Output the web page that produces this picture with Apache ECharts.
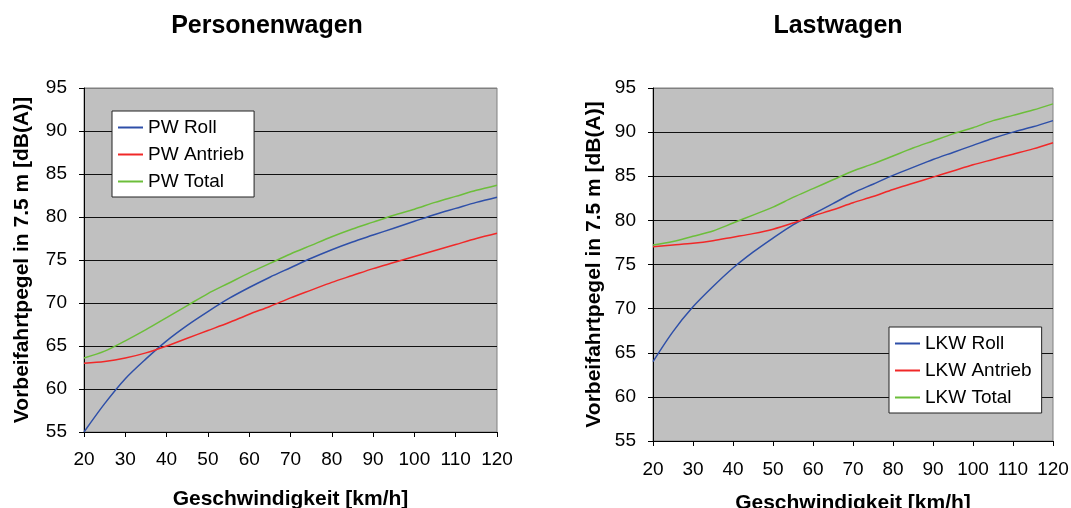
<!DOCTYPE html>
<html>
<head>
<meta charset="utf-8">
<script src="https://cdn.jsdelivr.net/npm/echarts@6/dist/echarts.min.js"></script>
<style>
html,body{margin:0;padding:0;background:#fff;}
#c{width:1071px;height:508px;}
</style>
</head>
<body>
<div id="c"></div>
<script>
// ---- data ----
const speeds = [20,25,30,35,40,45,50,55,60,65,70,75,80,85,90,95,100,105,110,115,120];
const xTicks = [20,30,40,50,60,70,80,90,100,110,120];
const yTicks = [55,60,65,70,75,80,85,90,95];

const pwRoll    = [55.0,58.3,61.2,63.5,65.6,67.4,69.0,70.5,71.8,73.0,74.1,75.2,76.2,77.1,77.9,78.7,79.5,80.3,81.0,81.7,82.3];
const pwAntrieb = [63.0,63.2,63.6,64.2,65.0,65.9,66.8,67.7,68.7,69.6,70.6,71.5,72.4,73.2,74.0,74.7,75.4,76.1,76.8,77.5,78.1];
const pwTotal   = [63.6,64.4,65.6,66.9,68.3,69.7,71.1,72.3,73.5,74.6,75.7,76.7,77.7,78.6,79.4,80.2,80.9,81.7,82.4,83.1,83.7];

const lkwRoll    = [64.0,67.4,70.2,72.5,74.6,76.4,78.0,79.5,80.7,81.9,83.1,84.1,85.1,86.0,86.9,87.7,88.5,89.3,90.0,90.6,91.3];
const lkwAntrieb = [77.0,77.2,77.4,77.7,78.1,78.5,79.0,79.7,80.5,81.2,82.0,82.7,83.5,84.2,84.9,85.6,86.3,86.9,87.5,88.1,88.8];
const lkwTotal   = [77.2,77.6,78.2,78.8,79.7,80.6,81.5,82.6,83.6,84.6,85.6,86.4,87.3,88.2,89.0,89.8,90.5,91.3,91.9,92.5,93.2];

const titles = ['Personenwagen','Lastwagen'];
const xName = 'Geschwindigkeit [km/h]';
const yName = 'Vorbeifahrtpegel in 7.5 m [dB(A)]';
const pwNames = ['PW Roll','PW Antrieb','PW Total'];
const lkwNames = ['LKW Roll','LKW Antrieb','LKW Total'];

// ---- styling ----
const FONT = 'Liberation Sans, Arial, sans-serif';
const colors = ['#2E4FA8','#F02828','#6CBE3A'];
const pairs = arr => speeds.map((s,i)=>[s, arr[i]]);
const splitColors = yTicks.map((v,i)=> i===yTicks.length-1 ? '#808080' : '#111');

function xAxisFor(gi, gap, margin){
  return {
    gridIndex: gi, type:'value', min: xTicks[0], max: xTicks[xTicks.length-1], interval: 10,
    name: xName, nameLocation:'middle', nameGap: gap,
    nameTextStyle:{fontFamily:FONT,fontSize:21,fontWeight:'bold',color:'#000'},
    axisLine:{show:true,onZero:false,lineStyle:{color:'#000',width:1}},
    axisTick:{show:true,inside:false,length:5,lineStyle:{color:'#000'}},
    axisLabel:{fontFamily:FONT,fontSize:19,color:'#000',margin:margin},
    splitLine:{show:false}
  };
}
function yAxisFor(gi, gap){
  return {
    gridIndex: gi, type:'value', min: yTicks[0], max: yTicks[yTicks.length-1], interval: 5,
    name: yName, nameLocation:'middle', nameGap: gap, nameRotate: 90,
    nameTextStyle:{fontFamily:FONT,fontSize:21,fontWeight:'bold',color:'#000'},
    axisLine:{show:true,onZero:false,lineStyle:{color:'#000',width:1}},
    axisTick:{show:true,inside:false,length:5,lineStyle:{color:'#000'}},
    axisLabel:{fontFamily:FONT,fontSize:19,color:'#000',margin:17},
    splitLine:{show:true,lineStyle:{color:splitColors,width:1}}
  };
}
function legendFor(names, left, top){
  return {
    data: names, orient:'vertical', left: left, top: top,
    backgroundColor:'#fff', borderColor:'#222', borderWidth:1, borderRadius:0,
    padding:[6,10,5,6], itemWidth:25, itemHeight:2, itemGap:6, icon:'rect',
    textStyle:{fontFamily:FONT,fontSize:19,color:'#000',lineHeight:21},
    selectedMode:false
  };
}
function lineSeries(name, arr, ci, gi){
  return {
    name: name, type:'line', xAxisIndex: gi, yAxisIndex: gi,
    data: pairs(arr), symbol:'none', showSymbol:false, smooth:0.3,
    lineStyle:{color:colors[ci], width:1.5}, itemStyle:{color:colors[ci]},
    emphasis:{disabled:true}, animation:false
  };
}

const chart = echarts.init(document.getElementById('c'), null, {renderer:'canvas'});
chart.setOption({
  animation:false,
  backgroundColor:'#fff',
  title:[
    {text: titles[0], left: 262, top: 9, textAlign:'center',
     textStyle:{fontFamily:FONT,fontSize:25,fontWeight:'bold',color:'#000'}},
    {text: titles[1], left: 833, top: 9, textAlign:'center',
     textStyle:{fontFamily:FONT,fontSize:25,fontWeight:'bold',color:'#000'}}
  ],
  legend:[ legendFor(pwNames, 112, 111), legendFor(lkwNames, 889, 327) ],
  grid:[
    {left:84, top:88, width:413, height:344, show:true, backgroundColor:'#C0C0C0', borderColor:'#808080', borderWidth:1, containLabel:false, outerBoundsMode:'none'},
    {left:653, top:88, width:400, height:353, show:true, backgroundColor:'#C0C0C0', borderColor:'#808080', borderWidth:1, containLabel:false, outerBoundsMode:'none'}
  ],
  xAxis:[ xAxisFor(0, 57, 18), xAxisFor(1, 52, 19) ],
  yAxis:[ yAxisFor(0, 51), yAxisFor(1, 48) ],
  series:[
    lineSeries(pwNames[0], pwRoll, 0, 0),
    lineSeries(pwNames[1], pwAntrieb, 1, 0),
    lineSeries(pwNames[2], pwTotal, 2, 0),
    lineSeries(lkwNames[0], lkwRoll, 0, 1),
    lineSeries(lkwNames[1], lkwAntrieb, 1, 1),
    lineSeries(lkwNames[2], lkwTotal, 2, 1)
  ]
});
</script>
</body>
</html>
